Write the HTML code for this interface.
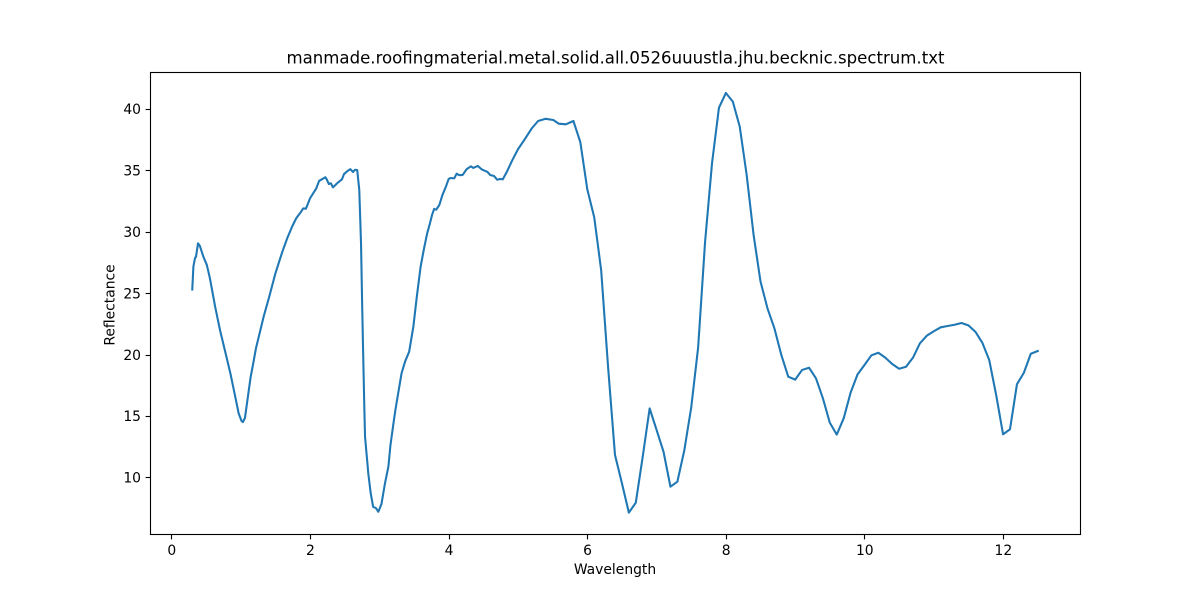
<!DOCTYPE html>
<html>
<head>
<meta charset="utf-8">
<title>Reflectance spectrum</title>
<style>
html,body{margin:0;padding:0;background:#fff;width:1200px;height:600px;overflow:hidden}
svg{display:block}
text{font-family:"DejaVu Sans","Liberation Sans",sans-serif;fill:#000}
</style>
</head>
<body>
<svg id="chart" xmlns="http://www.w3.org/2000/svg" width="1200" height="600" viewBox="0 0 1200 600">
  <rect x="0" y="0" width="1200" height="600" fill="#fff"/>
  <g id="ticks"></g>
  <g id="series"></g>
  <rect x="150.5" y="72.5" width="930" height="462" fill="none" stroke="#000" stroke-width="1.11"/>
  <text x="615.5" y="63.5" text-anchor="middle" font-size="16.67" textLength="658" lengthAdjust="spacingAndGlyphs">manmade.roofingmaterial.metal.solid.all.0526uuustla.jhu.becknic.spectrum.txt</text>
  <text x="615" y="574" text-anchor="middle" font-size="13.89">Wavelength</text>
  <text x="0" y="0" text-anchor="middle" font-size="13.89" transform="translate(114.5 305) rotate(-90)">Reflectance</text>
</svg>
<script>
const wavelengths = [0.3,0.316,0.34,0.354,0.383,0.41,0.46,0.51,0.555,0.63,0.7,0.775,0.85,0.92,0.97,1.01,1.03,1.06,1.08,1.11,1.143,1.18,1.22,1.26,1.33,1.41,1.5,1.6,1.67,1.74,1.8,1.87,1.9,1.94,2.0,2.05,2.09,2.13,2.17,2.22,2.24,2.27,2.3,2.33,2.36,2.4,2.46,2.49,2.54,2.58,2.62,2.65,2.68,2.71,2.735,2.753,2.768,2.783,2.793,2.84,2.875,2.91,2.95,2.985,3.03,3.08,3.13,3.16,3.21,3.235,3.32,3.37,3.43,3.49,3.54,3.595,3.645,3.69,3.73,3.76,3.79,3.82,3.865,3.91,3.96,4.0,4.03,4.08,4.115,4.15,4.2,4.26,4.32,4.355,4.42,4.475,4.56,4.6,4.655,4.7,4.74,4.78,4.84,4.92,5.0,5.09,5.2,5.29,5.4,5.51,5.59,5.69,5.8,5.9,6.0,6.1,6.2,6.3,6.4,6.5,6.6,6.7,6.8,6.9,7.0,7.1,7.2,7.3,7.4,7.5,7.6,7.7,7.8,7.9,8.0,8.1,8.2,8.3,8.4,8.5,8.6,8.7,8.8,8.9,9.0,9.1,9.2,9.3,9.4,9.5,9.6,9.7,9.8,9.9,10.0,10.1,10.2,10.3,10.4,10.5,10.6,10.7,10.8,10.9,11.0,11.1,11.2,11.3,11.4,11.5,11.6,11.7,11.8,11.9,12.0,12.1,12.2,12.3,12.4,12.5];
const reflectance = [25.3,27.16,27.87,27.97,29.06,28.84,27.97,27.3,26.2,23.9,22.0,20.24,18.47,16.57,15.2,14.6,14.5,14.84,15.65,16.87,18.2,19.3,20.54,21.46,23.09,24.7,26.62,28.38,29.47,30.41,31.1,31.63,31.9,31.88,32.73,33.18,33.54,34.14,34.27,34.44,34.27,33.89,33.95,33.62,33.78,34.0,34.27,34.7,34.95,35.1,34.87,35.05,35.03,33.4,29.09,23.63,19.56,15.65,13.31,10.33,8.7,7.6,7.5,7.2,7.83,9.5,10.87,12.64,14.67,15.63,18.48,19.42,20.24,22.27,24.71,27.16,28.66,29.88,30.69,31.37,31.86,31.8,32.18,33.0,33.67,34.3,34.38,34.35,34.73,34.62,34.62,35.1,35.33,35.2,35.36,35.09,34.87,34.62,34.54,34.24,34.3,34.27,34.89,35.85,36.72,37.47,38.43,39.02,39.2,39.1,38.8,38.75,39.02,37.29,33.46,31.18,26.89,19.0,11.82,9.52,7.13,7.94,11.69,15.62,13.86,12.09,9.24,9.65,12.2,15.7,20.6,29.19,35.58,40.1,41.3,40.6,38.56,34.62,29.74,25.94,23.77,22.14,19.97,18.2,17.96,18.75,18.93,18.07,16.44,14.45,13.48,14.81,16.9,18.39,19.15,19.94,20.15,19.75,19.23,18.85,19.01,19.75,20.92,21.54,21.9,22.22,22.33,22.43,22.57,22.38,21.86,20.97,19.56,16.71,13.51,13.92,17.58,18.52,20.07,20.29];
const xTickValues = [0,2,4,6,8,10,12];
const yTickValues = [10,15,20,25,30,35,40];

const NS = 'http://www.w3.org/2000/svg';
const plot = {left:150, right:1080, top:72, bottom:534};
const xDomain = [-0.31, 13.11];
const yDomain = [5.39, 43.01];

function xScale(v){
  return plot.left + (v - xDomain[0]) / (xDomain[1] - xDomain[0]) * (plot.right - plot.left);
}
function yScale(v){
  return plot.bottom - (v - yDomain[0]) / (yDomain[1] - yDomain[0]) * (plot.bottom - plot.top);
}
function make(tag, attrs){
  const el = document.createElementNS(NS, tag);
  for (const k in attrs) el.setAttribute(k, attrs[k]);
  return el;
}

const ticksLayer = document.getElementById('ticks');
const seriesLayer = document.getElementById('series');

xTickValues.forEach(function(v){
  const px = Math.round(xScale(v)) + 0.5;
  const mark = make('line', {x1:px, x2:px, y1:plot.bottom, y2:plot.bottom + 5.4, stroke:'#000', 'stroke-width':1.11});
  
  
  ticksLayer.appendChild(mark);
  const label = make('text', {x:xScale(v) + 0.3, y:555, 'text-anchor':'middle', 'font-size':13.89});
  
  
  label.textContent = String(v);
  ticksLayer.appendChild(label);
});

yTickValues.forEach(function(v){
  const py = Math.round(yScale(v)) + 0.5;
  const mark = make('line', {x1:plot.left - 4.4, x2:plot.left, y1:py, y2:py, stroke:'#000', 'stroke-width':1.11});
  
  
  ticksLayer.appendChild(mark);
  const label = make('text', {x:141, y:yScale(v) + 5.2, 'text-anchor':'end', 'font-size':13.89});
  
  
  label.textContent = String(v);
  ticksLayer.appendChild(label);
});

const points = wavelengths.map(function(w, i){
  return xScale(w).toFixed(2) + ',' + yScale(reflectance[i]).toFixed(2);
}).join(' ');
const line = make('polyline', {points:points, fill:'none', stroke:'#1f77b4', 'stroke-width':2.08, 'stroke-linejoin':'round', 'stroke-linecap':'square'});


seriesLayer.appendChild(line);
</script>
</body>
</html>
